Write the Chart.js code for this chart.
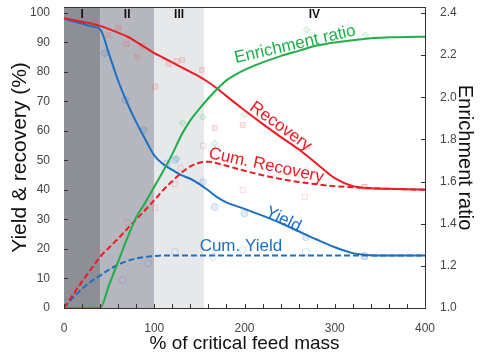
<!DOCTYPE html>
<html>
<head>
<meta charset="utf-8">
<script src="https://cdn.jsdelivr.net/npm/chart.js@4.4.1/dist/chart.umd.min.js"></script>
<style>
  html, body { margin: 0; padding: 0; background: #fff; }
  #wrap { width: 480px; height: 363px; }
</style>
</head>
<body>
<div id="wrap"><canvas id="grafico" width="480" height="363"></canvas></div>
<script>
// % of critical feed mass
const feedMass = [0, 10, 20, 30, 40, 50, 60, 70, 80, 90, 100, 110, 120, 130, 140, 150, 160, 170, 180,
    200, 220, 240, 260, 280, 300, 320, 340, 360, 380, 400];
const recovery = [98.2, 97.6, 97, 96.4, 95.6, 94.5, 93.3, 92, 90.2, 88.3, 86.4, 84.8, 83.2, 81.6, 80, 78.4, 76.5, 74.3, 71.8,
    67, 62.4, 58, 53.8, 48.9, 44, 41.3, 40.6, 40.4, 40.2, 40.1];
const cumRecovery = [0, 4.5, 9, 13.2, 17.3, 20.5, 23.5, 26.8, 30, 33.2, 36.5, 40, 43, 45.8, 48, 49.2, 49.6, 49, 48.2,
    46.5, 45, 43.7, 42.7, 41.9, 41.3, 40.9, 40.6, 40.4, 40.2, 40.1];
const yieldPct = [98, 97.2, 96.4, 95.5, 94.5, 86, 77, 69.5, 63, 57.2, 51.7, 48.7, 46.8, 45, 43.8, 42, 39.8, 37.5, 35.8,
    33.6, 31.3, 28.8, 26, 23.2, 20.6, 18.6, 17.9, 17.8, 17.8, 17.8];
const cumYield = [0, 3.5, 6.5, 9, 11, 13, 14.7, 15.9, 16.8, 17.3, 17.6, 17.8, 17.8, 17.8, 17.8, 17.8, 17.8, 17.8, 17.8,
    17.8, 17.8, 17.8, 17.8, 17.8, 17.8, 17.8, 17.8, 17.8, 17.8, 17.8];
const enrichment = [1.0, 1.0, 1.0, 1.0, 1.0, 1.11, 1.22, 1.33, 1.43, 1.5, 1.575, 1.65, 1.73, 1.82, 1.89, 1.945, 1.995, 2.04, 2.08,
    2.13, 2.165, 2.195, 2.22, 2.245, 2.26, 2.27, 2.28, 2.284, 2.286, 2.287];

// measured points (faint markers)
const recoveryPtsX = [34, 49, 60, 69, 81, 87, 101, 116, 125, 131, 153, 167, 198, 269, 333];
const recoveryPtsY = [96.6, 92.5, 95, 89.5, 85, 88.8, 75, 82.7, 83.7, 84, 80.7, 61, 62, 54.6, 41];
const cumRecoveryPtsX = [9, 38, 70, 101, 123, 129, 154, 198, 267, 333];
const cumRecoveryPtsY = [5.4, 19, 29, 34, 42, 47.5, 55, 40, 37.7, 41];
const yieldPtsX = [45, 68, 88, 114, 123, 154, 167, 200, 268, 333];
const yieldPtsY = [86.4, 70.5, 60.3, 49, 50.2, 42.7, 34.2, 32, 24, 17.6];
const cumYieldPtsX = [65, 93, 123, 165, 198, 268, 333];
const cumYieldPtsY = [9.5, 15.2, 19, 17.3, 19.7, 19, 17.6];
const enrichPtsX = [32, 90, 125, 131, 154, 167, 200, 269, 334];
const enrichPtsY = [1.0, 1.475, 1.71, 1.878, 1.906, 1.78, 1.916, 2.32, 2.295];

// stages along the x axis
const stageNames = ['I', 'II', 'III', 'IV'];
const stageBounds = [0, 40, 100, 155, 400];
const stageColors = ['#8e8e96', '#b6b6be', '#e6e8ea', 'rgba(0,0,0,0)'];

const RED = '#ec1c24';
const BLUE = '#1b70c2';
const GREEN = '#1fae48';
const FONT = "'Liberation Sans', Arial, sans-serif";

// curve labels: x in feed mass, y in left axis units
const curveLabels = [
    { text: 'Enrichment ratio', x: 256, y: 89.3, angle: -13, color: GREEN },
    { text: 'Recovery', x: 240, y: 61.5, angle: 36, color: RED },
    { text: 'Cum. Recovery', x: 224, y: 48.3, angle: 12, color: RED },
    { text: 'Yield', x: 243, y: 30, angle: 26, color: BLUE },
    { text: 'Cum. Yield', x: 196, y: 21, angle: 0, color: BLUE },
];

function pares(xs, ys) {
    return xs.map((x, i) => ({ x, y: ys[i] }));
}

function curva(label, ys, color, axis, dashed) {
    return {
        label,
        data: pares(feedMass, ys),
        borderColor: color,
        borderWidth: 2,
        borderDash: dashed ? [6, 3] : [],
        pointRadius: 0,
        cubicInterpolationMode: 'monotone',
        yAxisID: axis,
        fill: false,
    };
}

function marcas(label, xs, ys, style, fill, stroke, axis) {
    return {
        type: 'scatter',
        label,
        data: pares(xs, ys),
        pointStyle: style,
        pointRadius: 3.5,
        backgroundColor: fill,
        borderColor: stroke,
        borderWidth: 1,
        yAxisID: axis,
    };
}

const fondoEtapas = {
    id: 'fondoEtapas',
    beforeDatasetsDraw(chart) {
        const { ctx, chartArea: a, scales: { x } } = chart;
        ctx.save();
        for (let i = 0; i < stageNames.length; i++) {
            const x0 = x.getPixelForValue(stageBounds[i]);
            const x1 = x.getPixelForValue(stageBounds[i + 1]);
            ctx.fillStyle = stageColors[i];
            ctx.fillRect(x0, a.top, x1 - x0, a.bottom - a.top);
            ctx.fillStyle = '#111';
            ctx.font = `bold 12px ${FONT}`;
            ctx.textAlign = 'center';
            ctx.textBaseline = 'middle';
            ctx.fillText(stageNames[i], (x0 + x1) / 2, a.top + 8);
        }
        ctx.restore();
    },
};

const marcoYTextos = {
    id: 'marcoYTextos',
    afterDraw(chart) {
        const { ctx, chartArea: a, scales } = chart;
        ctx.save();
        // curve labels
        curveLabels.forEach((l) => {
            ctx.save();
            ctx.translate(scales.x.getPixelForValue(l.x), scales.y.getPixelForValue(l.y));
            ctx.rotate(l.angle * Math.PI / 180);
            ctx.fillStyle = l.color;
            ctx.font = `17px ${FONT}`;
            ctx.textAlign = 'center';
            ctx.textBaseline = 'middle';
            ctx.fillText(l.text, 0, 0);
            ctx.restore();
        });
        // box and inward ticks
        ctx.strokeStyle = '#333';
        ctx.lineWidth = 1;
        ctx.beginPath();
        ctx.moveTo(a.left, a.top + 0.5);
        ctx.lineTo(a.right, a.top + 0.5);
        scales.x.ticks.forEach((t) => {
            const px = Math.round(scales.x.getPixelForValue(t.value)) + 0.5;
            ctx.moveTo(px, a.bottom);
            ctx.lineTo(px, a.bottom - 4);
        });
        scales.y.ticks.forEach((t) => {
            const py = Math.round(scales.y.getPixelForValue(t.value)) + 0.5;
            ctx.moveTo(a.left, py);
            ctx.lineTo(a.left + 4, py);
        });
        scales.y2.ticks.forEach((t) => {
            const py = Math.round(scales.y2.getPixelForValue(t.value)) + 0.5;
            ctx.moveTo(a.right, py);
            ctx.lineTo(a.right - 4, py);
        });
        ctx.stroke();
        ctx.restore();
    },
};

const tickFont = { family: FONT, size: 12 };

function anchoFijo(w) {
    return (s) => {
        s.width = w;
        s.paddingTop = 0;
        s.paddingBottom = 0;
    };
}

new Chart(document.querySelector('#grafico'), {
    type: 'line',
    data: {
        datasets: [
            curva('Enrichment ratio', enrichment, GREEN, 'y2', false),
            curva('Recovery', recovery, RED, 'y', false),
            curva('Cum. Recovery', cumRecovery, RED, 'y', true),
            curva('Yield', yieldPct, BLUE, 'y', false),
            curva('Cum. Yield', cumYield, BLUE, 'y', true),
            marcas('Recovery data', recoveryPtsX, recoveryPtsY, 'rect', 'rgba(240,90,90,0.12)', 'rgba(240,90,90,0.22)', 'y'),
            marcas('Cum. Recovery data', cumRecoveryPtsX, cumRecoveryPtsY, 'rect', 'rgba(255,255,255,0)', 'rgba(240,90,90,0.22)', 'y'),
            marcas('Yield data', yieldPtsX, yieldPtsY, 'circle', 'rgba(40,110,210,0.12)', 'rgba(40,110,210,0.2)', 'y'),
            marcas('Cum. Yield data', cumYieldPtsX, cumYieldPtsY, 'circle', 'rgba(255,255,255,0)', 'rgba(40,110,210,0.2)', 'y'),
            marcas('Enrichment data', enrichPtsX, enrichPtsY, 'rectRot', 'rgba(40,180,80,0.12)', 'rgba(40,180,80,0.2)', 'y2'),
        ],
    },
    options: {
        responsive: false,
        animation: false,
        events: [],
        layout: { padding: { top: 7, right: 0, bottom: 0, left: 0 } },
        plugins: { legend: { display: false }, tooltip: { enabled: false } },
        scales: {
            x: {
                type: 'linear',
                min: 0,
                max: 400,
                grid: { display: false },
                border: { display: true, color: '#333', width: 1 },
                ticks: {
                    stepSize: 20,
                    autoSkip: false,
                    maxRotation: 0,
                    padding: 5,
                    color: '#444',
                    font: tickFont,
                    callback: (v) => (v % 100 === 0 ? v : ''),
                },
                title: {
                    display: true,
                    text: '% of critical feed mass',
                    color: '#111',
                    font: { family: FONT, size: 19 },
                    padding: { bottom: 8 },
                },
                afterFit: (s) => { s.height = 55; },
            },
            y: {
                position: 'left',
                min: 0,
                max: 102,
                grid: { display: false },
                border: { display: true, color: '#333', width: 1 },
                ticks: { stepSize: 10, includeBounds: false, padding: 6, color: '#444', font: tickFont },
                title: {
                    display: true,
                    text: 'Yield & recovery (%)',
                    color: '#111',
                    font: { family: FONT, size: 21 },
                    padding: { top: 8 },
                },
                afterFit: anchoFijo(64),
            },
            y2: {
                position: 'right',
                min: 1.0,
                max: 2.428,
                grid: { display: false },
                border: { display: true, color: '#333', width: 1 },
                ticks: {
                    stepSize: 0.2,
                    includeBounds: false,
                    padding: 7,
                    color: '#444',
                    font: tickFont,
                    callback: (v) => Number(v).toFixed(1),
                },
                title: {
                    display: true,
                    text: 'Enrichment ratio',
                    color: '#111',
                    font: { family: FONT, size: 20 },
                    padding: { top: 3 },
                },
                afterFit: anchoFijo(55),
            },
        },
    },
    plugins: [fondoEtapas, marcoYTextos],
});
</script>
</body>
</html>
